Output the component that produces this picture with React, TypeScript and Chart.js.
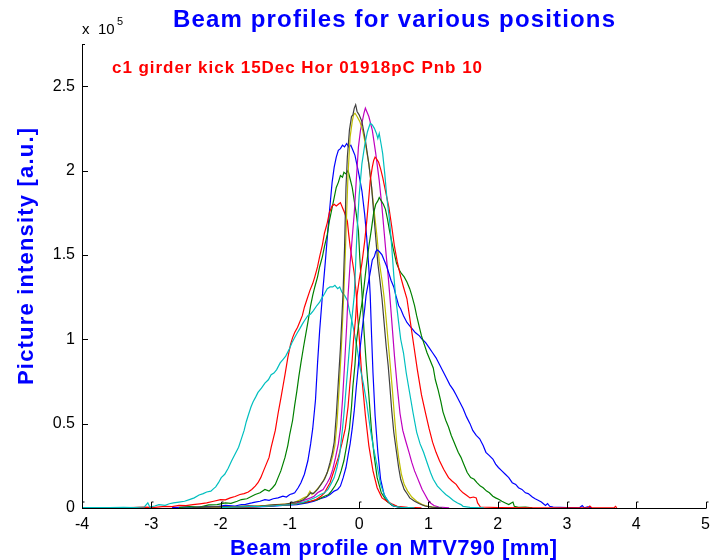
import { useEffect, useRef } from 'react';
import { Chart, registerables } from 'chart.js';

Chart.register(...registerables);

type Pt = [number, number];

// Axis ranges and ticks (intensity in units of 1e5)
const xRange: [number, number] = [-4, 5];
const yRange: [number, number] = [0, 2.75];
const xTickValues = [-4, -3, -2, -1, 0, 1, 2, 3, 4, 5];
const yTickValues = [0, 0.5, 1, 1.5, 2, 2.5];

const chartTitle = 'Beam profiles for various positions';
const runLabel = 'c1 girder kick 15Dec Hor 01918pC Pnb 10';
const xAxisTitle = 'Beam profile on MTV790 [mm]';
const yAxisTitle = 'Picture intensity [a.u.]';
const yExponentTimes = 'x';
const yExponentBase = '10';
const yExponent = '5';

// Profiles, one per kick position: [position mm, intensity x1e5]
const profileBlue1: Pt[] = [
  [-2.7, 0.002], [-2.5, 0.006], [-2.35, 0.004], [-2.2, 0.01], [-2.05, 0.008], [-1.93, 0.015], [-1.79, 0.012],
  [-1.7, 0.02], [-1.64, 0.022], [-1.55, 0.03], [-1.5, 0.035], [-1.43, 0.04], [-1.36, 0.05], [-1.3, 0.045],
  [-1.24, 0.055], [-1.17, 0.06], [-1.1, 0.07], [-1.05, 0.065], [-1.0, 0.08], [-0.96, 0.085], [-0.93, 0.09],
  [-0.88, 0.12], [-0.84, 0.15], [-0.79, 0.2], [-0.74, 0.28], [-0.7, 0.38], [-0.67, 0.47], [-0.63, 0.64],
  [-0.6, 0.86], [-0.57, 1.05], [-0.53, 1.26], [-0.49, 1.45], [-0.46, 1.6], [-0.43, 1.75], [-0.39, 1.93],
  [-0.36, 2.02], [-0.33, 2.08], [-0.3, 2.12], [-0.27, 2.13], [-0.24, 2.15], [-0.21, 2.14], [-0.18, 2.16],
  [-0.15, 2.14], [-0.12, 2.15], [-0.09, 2.12], [-0.06, 2.09], [-0.03, 2.03], [0.0, 1.97], [0.04, 1.88],
  [0.08, 1.74], [0.11, 1.6], [0.14, 1.42], [0.16, 1.26], [0.18, 1.02], [0.2, 0.8], [0.23, 0.55],
  [0.27, 0.33], [0.31, 0.17], [0.36, 0.08], [0.42, 0.035], [0.49, 0.012], [0.6, 0.004], [0.8, 0.001],
];

const profileGreen1: Pt[] = [
  [-2.6, 0.003], [-2.45, 0.008], [-2.3, 0.006], [-2.17, 0.018], [-2.05, 0.02], [-1.93, 0.03], [-1.85, 0.028],
  [-1.76, 0.04], [-1.7, 0.05], [-1.62, 0.055], [-1.55, 0.07], [-1.5, 0.08], [-1.43, 0.09], [-1.36, 0.11],
  [-1.3, 0.1], [-1.25, 0.12], [-1.21, 0.14], [-1.17, 0.18], [-1.13, 0.22], [-1.1, 0.26], [-1.07, 0.3],
  [-1.03, 0.37], [-1.0, 0.44], [-0.96, 0.52], [-0.93, 0.61], [-0.9, 0.69], [-0.87, 0.78], [-0.84, 0.86],
  [-0.8, 0.96], [-0.77, 1.03], [-0.74, 1.1], [-0.7, 1.2], [-0.67, 1.26], [-0.64, 1.31], [-0.6, 1.37],
  [-0.57, 1.43], [-0.53, 1.49], [-0.5, 1.55], [-0.46, 1.62], [-0.43, 1.7], [-0.4, 1.76], [-0.36, 1.84],
  [-0.33, 1.9], [-0.3, 1.93], [-0.27, 1.97], [-0.24, 1.96], [-0.22, 1.99], [-0.19, 1.98], [-0.16, 2.0],
  [-0.13, 1.95], [-0.1, 1.9], [-0.07, 1.82], [-0.04, 1.74], [-0.01, 1.64], [0.01, 1.48], [0.04, 1.28],
  [0.07, 1.05], [0.1, 0.87], [0.14, 0.67], [0.18, 0.45], [0.22, 0.3], [0.26, 0.18], [0.32, 0.09],
  [0.4, 0.04], [0.48, 0.015], [0.6, 0.004], [0.8, 0.001],
];

const profileRed1: Pt[] = [
  [-3.3, 0.002], [-3.1, 0.005], [-2.95, 0.004], [-2.8, 0.01], [-2.7, 0.008], [-2.6, 0.015], [-2.5, 0.014],
  [-2.4, 0.02], [-2.3, 0.025], [-2.2, 0.03], [-2.1, 0.04], [-2.0, 0.05], [-1.93, 0.048], [-1.86, 0.06],
  [-1.79, 0.068], [-1.72, 0.08], [-1.66, 0.085], [-1.6, 0.095], [-1.55, 0.11], [-1.5, 0.13], [-1.46, 0.15],
  [-1.42, 0.18], [-1.38, 0.22], [-1.34, 0.26], [-1.3, 0.3], [-1.27, 0.36], [-1.24, 0.41], [-1.21, 0.46],
  [-1.17, 0.56], [-1.13, 0.65], [-1.1, 0.72], [-1.07, 0.79], [-1.03, 0.89], [-0.99, 0.97], [-0.96, 1.01],
  [-0.93, 1.04], [-0.89, 1.07], [-0.86, 1.1], [-0.82, 1.14], [-0.79, 1.19], [-0.75, 1.24], [-0.71, 1.29],
  [-0.67, 1.33], [-0.64, 1.37], [-0.6, 1.43], [-0.57, 1.49], [-0.53, 1.56], [-0.5, 1.63], [-0.46, 1.69],
  [-0.43, 1.75], [-0.39, 1.79], [-0.36, 1.8], [-0.33, 1.79], [-0.3, 1.8], [-0.27, 1.81], [-0.24, 1.78],
  [-0.21, 1.75], [-0.17, 1.7], [-0.15, 1.62], [-0.13, 1.55], [-0.1, 1.47], [-0.07, 1.39], [-0.04, 1.26],
  [-0.02, 1.13], [0.0, 1.02], [0.04, 0.77], [0.09, 0.55], [0.14, 0.37], [0.2, 0.22], [0.26, 0.12],
  [0.33, 0.06], [0.4, 0.04], [0.47, 0.025], [0.55, 0.01], [0.7, 0.004], [0.9, 0.001],
];

const profileCyan1: Pt[] = [
  [-4.0, 0.002], [-3.8, 0.003], [-3.6, 0.002], [-3.4, 0.004], [-3.25, 0.003], [-3.1, 0.006], [-3.05, 0.03],
  [-3.02, 0.005], [-2.95, 0.012], [-2.89, 0.02], [-2.8, 0.016], [-2.74, 0.025], [-2.68, 0.03], [-2.6, 0.035],
  [-2.52, 0.04], [-2.45, 0.05], [-2.38, 0.06], [-2.31, 0.077], [-2.25, 0.085], [-2.2, 0.095], [-2.14, 0.1],
  [-2.1, 0.115], [-2.07, 0.125], [-2.03, 0.15], [-1.99, 0.18], [-1.94, 0.2], [-1.89, 0.236], [-1.84, 0.28],
  [-1.79, 0.32], [-1.74, 0.36], [-1.7, 0.41], [-1.66, 0.46], [-1.63, 0.51], [-1.6, 0.55], [-1.56, 0.6],
  [-1.53, 0.63], [-1.49, 0.66], [-1.46, 0.685], [-1.41, 0.71], [-1.36, 0.74], [-1.31, 0.76], [-1.27, 0.79],
  [-1.23, 0.8], [-1.19, 0.82], [-1.14, 0.86], [-1.1, 0.88], [-1.06, 0.9], [-1.01, 0.94], [-0.97, 0.98],
  [-0.93, 1.01], [-0.89, 1.04], [-0.86, 1.06], [-0.82, 1.09], [-0.79, 1.11], [-0.74, 1.14], [-0.7, 1.15],
  [-0.66, 1.17], [-0.61, 1.2], [-0.57, 1.22], [-0.53, 1.25], [-0.5, 1.27], [-0.46, 1.3], [-0.42, 1.31],
  [-0.38, 1.31], [-0.35, 1.32], [-0.31, 1.3], [-0.28, 1.31], [-0.25, 1.28], [-0.21, 1.26], [-0.17, 1.23],
  [-0.13, 1.15], [-0.1, 1.1], [-0.07, 1.04], [-0.03, 0.95], [0.01, 0.84], [0.06, 0.74], [0.11, 0.62],
  [0.16, 0.47], [0.21, 0.35], [0.26, 0.25], [0.31, 0.14], [0.37, 0.07], [0.44, 0.03], [0.5, 0.012],
  [0.6, 0.004], [0.8, 0.001],
];

const profileMagenta: Pt[] = [
  [-2.2, 0.003], [-2.0, 0.006], [-1.8, 0.005], [-1.6, 0.01], [-1.4, 0.012], [-1.2, 0.018], [-1.0, 0.025],
  [-0.9, 0.03], [-0.8, 0.045], [-0.7, 0.06], [-0.65, 0.07], [-0.6, 0.09], [-0.56, 0.1], [-0.52, 0.11],
  [-0.46, 0.15], [-0.42, 0.18], [-0.38, 0.23], [-0.34, 0.3], [-0.3, 0.38], [-0.27, 0.47], [-0.24, 0.64],
  [-0.21, 0.85], [-0.18, 1.08], [-0.16, 1.26], [-0.13, 1.45], [-0.1, 1.6], [-0.07, 1.75], [-0.04, 1.95],
  [-0.01, 2.14], [0.02, 2.24], [0.05, 2.3], [0.07, 2.34], [0.09, 2.37], [0.11, 2.35], [0.14, 2.32],
  [0.19, 2.24], [0.24, 2.1], [0.29, 1.94], [0.33, 1.78], [0.36, 1.64], [0.39, 1.5], [0.42, 1.37],
  [0.45, 1.22], [0.48, 1.06], [0.51, 0.9], [0.55, 0.72], [0.59, 0.56], [0.63, 0.46], [0.67, 0.4],
  [0.72, 0.33], [0.76, 0.27], [0.8, 0.22], [0.84, 0.18], [0.87, 0.15], [0.91, 0.11], [0.95, 0.08],
  [0.99, 0.05], [1.03, 0.03], [1.08, 0.015], [1.15, 0.006], [1.3, 0.001],
];

const profileYellow: Pt[] = [
  [-2.3, 0.003], [-2.1, 0.006], [-1.9, 0.005], [-1.7, 0.01], [-1.5, 0.012], [-1.35, 0.015], [-1.2, 0.02],
  [-1.05, 0.025], [-0.95, 0.03], [-0.87, 0.045], [-0.8, 0.06], [-0.75, 0.07], [-0.71, 0.1], [-0.68, 0.08],
  [-0.63, 0.1], [-0.57, 0.13], [-0.52, 0.16], [-0.47, 0.2], [-0.42, 0.25], [-0.38, 0.31], [-0.35, 0.37],
  [-0.32, 0.5], [-0.29, 0.7], [-0.26, 0.92], [-0.24, 1.1], [-0.22, 1.28], [-0.2, 1.5], [-0.18, 1.75],
  [-0.16, 1.98], [-0.13, 2.2], [-0.1, 2.29], [-0.08, 2.33], [-0.06, 2.34], [-0.03, 2.32], [0.01, 2.29],
  [0.05, 2.24], [0.09, 2.16], [0.14, 2.04], [0.18, 1.9], [0.22, 1.75], [0.26, 1.6], [0.29, 1.46],
  [0.33, 1.35], [0.36, 1.25], [0.39, 1.12], [0.42, 0.98], [0.45, 0.84], [0.48, 0.7], [0.51, 0.54],
  [0.54, 0.4], [0.57, 0.3], [0.61, 0.2], [0.65, 0.14], [0.7, 0.1], [0.76, 0.065], [0.83, 0.04],
  [0.91, 0.02], [1.0, 0.008], [1.15, 0.001],
];

const profileBlack: Pt[] = [
  [-2.4, 0.002], [-2.2, 0.005], [-2.0, 0.008], [-1.8, 0.007], [-1.6, 0.012], [-1.45, 0.01], [-1.3, 0.016],
  [-1.2, 0.02], [-1.1, 0.018], [-1.0, 0.028], [-0.93, 0.035], [-0.86, 0.04], [-0.8, 0.05], [-0.74, 0.07],
  [-0.7, 0.09], [-0.66, 0.085], [-0.6, 0.11], [-0.55, 0.14], [-0.5, 0.17], [-0.46, 0.21], [-0.42, 0.27],
  [-0.39, 0.32], [-0.36, 0.39], [-0.33, 0.55], [-0.3, 0.75], [-0.27, 0.95], [-0.25, 1.12], [-0.23, 1.3],
  [-0.21, 1.55], [-0.19, 1.9], [-0.17, 2.08], [-0.14, 2.24], [-0.11, 2.32], [-0.09, 2.33], [-0.07, 2.37],
  [-0.05, 2.39], [-0.03, 2.35], [0.0, 2.33], [0.04, 2.29], [0.09, 2.18], [0.14, 2.04], [0.18, 1.9],
  [0.21, 1.75], [0.24, 1.6], [0.27, 1.45], [0.3, 1.35], [0.33, 1.24], [0.36, 1.1], [0.39, 0.96],
  [0.42, 0.84], [0.44, 0.74], [0.47, 0.58], [0.5, 0.45], [0.54, 0.33], [0.57, 0.24], [0.6, 0.17],
  [0.65, 0.11], [0.7, 0.08], [0.73, 0.06], [0.8, 0.04], [0.87, 0.025], [0.95, 0.012], [1.05, 0.005],
  [1.2, 0.001],
];

const profileBlue2: Pt[] = [
  [-1.8, 0.003], [-1.5, 0.006], [-1.3, 0.01], [-1.1, 0.015], [-0.9, 0.02], [-0.75, 0.03], [-0.65, 0.04],
  [-0.56, 0.055], [-0.48, 0.065], [-0.42, 0.08], [-0.36, 0.1], [-0.31, 0.11], [-0.27, 0.13], [-0.23, 0.18],
  [-0.19, 0.24], [-0.16, 0.31], [-0.13, 0.38], [-0.1, 0.47], [-0.07, 0.58], [-0.04, 0.72], [-0.01, 0.85],
  [0.02, 0.97], [0.05, 1.08], [0.08, 1.18], [0.1, 1.26], [0.14, 1.35], [0.17, 1.42], [0.19, 1.47],
  [0.22, 1.49], [0.24, 1.52], [0.26, 1.53], [0.29, 1.52], [0.33, 1.5], [0.36, 1.47], [0.4, 1.43],
  [0.43, 1.39], [0.46, 1.35], [0.5, 1.31], [0.53, 1.26], [0.57, 1.2], [0.6, 1.18], [0.64, 1.14],
  [0.69, 1.1], [0.73, 1.08], [0.77, 1.06], [0.81, 1.04], [0.87, 1.02], [0.91, 1.0], [0.96, 0.98],
  [1.01, 0.95], [1.06, 0.92], [1.11, 0.89], [1.16, 0.85], [1.21, 0.81], [1.26, 0.77], [1.31, 0.73],
  [1.36, 0.7], [1.4, 0.67], [1.45, 0.63], [1.5, 0.59], [1.55, 0.54], [1.6, 0.5], [1.64, 0.46],
  [1.69, 0.43], [1.74, 0.41], [1.79, 0.37], [1.83, 0.33], [1.88, 0.31], [1.93, 0.29], [1.97, 0.26],
  [2.01, 0.24], [2.06, 0.22], [2.11, 0.2], [2.16, 0.18], [2.21, 0.15], [2.26, 0.14], [2.3, 0.12],
  [2.35, 0.11], [2.4, 0.09], [2.44, 0.085], [2.5, 0.065], [2.54, 0.055], [2.59, 0.045], [2.63, 0.035],
  [2.66, 0.025], [2.69, 0.015], [2.72, 0.026], [2.75, 0.01], [2.8, 0.006], [3.0, 0.003], [3.18, 0.001],
  [3.22, 0.014], [3.25, 0.001], [3.3, 0.007], [3.35, 0.001],
];

const profileGreen2: Pt[] = [
  [-2.0, 0.003], [-1.7, 0.006], [-1.4, 0.01], [-1.2, 0.015], [-1.0, 0.02], [-0.8, 0.03], [-0.7, 0.04],
  [-0.6, 0.05], [-0.5, 0.07], [-0.44, 0.08], [-0.4, 0.1], [-0.35, 0.13], [-0.3, 0.17], [-0.26, 0.22],
  [-0.22, 0.28], [-0.18, 0.37], [-0.14, 0.47], [-0.11, 0.6], [-0.09, 0.72], [-0.06, 0.85], [-0.04, 0.98],
  [-0.01, 1.08], [0.02, 1.16], [0.05, 1.24], [0.07, 1.31], [0.1, 1.42], [0.14, 1.55], [0.18, 1.66],
  [0.21, 1.75], [0.24, 1.8], [0.27, 1.82], [0.29, 1.84], [0.32, 1.82], [0.35, 1.8], [0.38, 1.77],
  [0.41, 1.71], [0.44, 1.64], [0.49, 1.54], [0.54, 1.45], [0.58, 1.41], [0.61, 1.39], [0.65, 1.37],
  [0.69, 1.34], [0.73, 1.3], [0.76, 1.26], [0.8, 1.2], [0.83, 1.14], [0.87, 1.07], [0.9, 1.02],
  [0.94, 0.97], [0.98, 0.92], [1.02, 0.88], [1.07, 0.83], [1.1, 0.76], [1.14, 0.7], [1.18, 0.63],
  [1.21, 0.57], [1.25, 0.52], [1.29, 0.48], [1.33, 0.43], [1.36, 0.4], [1.4, 0.36], [1.43, 0.33],
  [1.47, 0.3], [1.5, 0.27], [1.53, 0.24], [1.56, 0.21], [1.61, 0.18], [1.66, 0.17], [1.7, 0.15],
  [1.75, 0.13], [1.79, 0.12], [1.84, 0.1], [1.88, 0.09], [1.93, 0.07], [1.97, 0.06], [2.02, 0.05],
  [2.06, 0.04], [2.11, 0.03], [2.16, 0.02], [2.19, 0.028], [2.22, 0.035], [2.24, 0.01], [2.3, 0.004],
  [2.4, 0.006], [2.5, 0.001],
];

const profileRed2: Pt[] = [
  [-2.0, 0.003], [-1.8, 0.006], [-1.6, 0.005], [-1.4, 0.01], [-1.2, 0.015], [-1.0, 0.02], [-0.85, 0.03],
  [-0.7, 0.04], [-0.62, 0.05], [-0.55, 0.07], [-0.5, 0.09], [-0.46, 0.12], [-0.42, 0.15], [-0.38, 0.2],
  [-0.34, 0.25], [-0.3, 0.3], [-0.25, 0.38], [-0.2, 0.47], [-0.16, 0.6], [-0.13, 0.75], [-0.1, 0.88],
  [-0.08, 1.0], [-0.05, 1.13], [-0.03, 1.26], [0.0, 1.35], [0.04, 1.45], [0.08, 1.58], [0.11, 1.7],
  [0.14, 1.84], [0.16, 1.94], [0.19, 2.02], [0.21, 2.06], [0.23, 2.08], [0.25, 2.07], [0.28, 2.05],
  [0.31, 2.01], [0.34, 1.96], [0.38, 1.88], [0.43, 1.78], [0.47, 1.67], [0.51, 1.55], [0.55, 1.46],
  [0.6, 1.37], [0.64, 1.31], [0.69, 1.24], [0.74, 1.1], [0.79, 0.96], [0.84, 0.82], [0.9, 0.67],
  [0.96, 0.56], [1.01, 0.47], [1.06, 0.39], [1.11, 0.33], [1.16, 0.28], [1.22, 0.23], [1.29, 0.18],
  [1.34, 0.16], [1.4, 0.14], [1.45, 0.11], [1.5, 0.09], [1.55, 0.075], [1.6, 0.06], [1.65, 0.065],
  [1.69, 0.06], [1.71, 0.03], [1.75, 0.006], [2.0, 0.003], [2.5, 0.001], [3.3, 0.001], [3.33, 0.012],
  [3.36, 0.001], [3.68, 0.001], [3.7, 0.01], [3.72, 0.001],
];

const profileCyan2: Pt[] = [
  [-2.0, 0.003], [-1.8, 0.005], [-1.6, 0.008], [-1.4, 0.01], [-1.2, 0.014], [-1.0, 0.02], [-0.9, 0.025],
  [-0.8, 0.035], [-0.7, 0.05], [-0.62, 0.065], [-0.56, 0.08], [-0.5, 0.09], [-0.45, 0.11], [-0.41, 0.14],
  [-0.36, 0.18], [-0.32, 0.24], [-0.28, 0.32], [-0.24, 0.47], [-0.21, 0.6], [-0.18, 0.75], [-0.14, 0.95],
  [-0.11, 1.1], [-0.07, 1.26], [-0.05, 1.45], [-0.03, 1.64], [0.0, 1.85], [0.04, 2.04], [0.08, 2.15],
  [0.12, 2.23], [0.16, 2.28], [0.19, 2.27], [0.22, 2.25], [0.25, 2.22], [0.27, 2.19], [0.29, 2.22],
  [0.32, 2.15], [0.34, 2.1], [0.37, 1.98], [0.4, 1.84], [0.44, 1.7], [0.47, 1.55], [0.5, 1.38],
  [0.53, 1.24], [0.57, 1.1], [0.6, 1.0], [0.64, 0.92], [0.68, 0.8], [0.73, 0.68], [0.78, 0.56],
  [0.83, 0.45], [0.88, 0.38], [0.93, 0.33], [0.98, 0.27], [1.03, 0.21], [1.07, 0.17], [1.13, 0.13],
  [1.2, 0.1], [1.25, 0.08], [1.3, 0.065], [1.36, 0.045], [1.42, 0.03], [1.47, 0.02], [1.5, 0.01],
  [1.6, 0.004], [1.8, 0.001],
];

// Plot order and colours follow the default line colour cycle
const profiles: Pt[][] = [
  profileBlue1, profileGreen1, profileRed1, profileCyan1, profileMagenta, profileYellow,
  profileBlack, profileBlue2, profileGreen2, profileRed2, profileCyan2,
];
const lineColors = [
  '#0000ff', '#008000', '#ff0000', '#00bfbf', '#bf00bf', '#bfbf00',
  '#404040', '#0000ff', '#008000', '#ff0000', '#00bfbf',
];

const FONT = '"Liberation Sans", Arial, Helvetica, sans-serif';

// Draws text with extra letter spacing so it spans the requested width
function spacedText(ctx: CanvasRenderingContext2D, text: string, x: number, y: number, width: number) {
  const chars = [...text];
  const widths = chars.map((c) => ctx.measureText(c).width);
  const natural = widths.reduce((a, b) => a + b, 0);
  const gap = chars.length > 1 ? (width - natural) / (chars.length - 1) : 0;
  let cx = x;
  chars.forEach((c, i) => {
    ctx.fillText(c, cx, y);
    cx += widths[i] + gap;
  });
}

const axesPlugin = {
  id: 'matlabAxes',
  afterDatasetsDraw(chart: any) {
    const { ctx, chartArea, scales } = chart;
    const xs = scales.x;
    const ys = scales.y;
    const left = chartArea.left;
    const right = chartArea.right;
    const top = chartArea.top;
    const bottom = chartArea.bottom;
    ctx.save();
    ctx.strokeStyle = '#000';
    ctx.lineWidth = 1;
    ctx.beginPath();
    ctx.moveTo(left + 0.5, top);
    ctx.lineTo(left + 0.5, bottom + 1);
    ctx.moveTo(left, bottom + 0.5);
    ctx.lineTo(right + 1, bottom + 0.5);
    ctx.moveTo(left, top + 0.5);
    ctx.lineTo(left + 3, top + 0.5);
    yTickValues.forEach((v) => {
      const py = Math.round(ys.getPixelForValue(v)) + 0.5;
      ctx.moveTo(left, py);
      ctx.lineTo(left + 6, py);
    });
    xTickValues.forEach((v) => {
      const px = Math.round(xs.getPixelForValue(v)) + 0.5;
      ctx.moveTo(px, bottom);
      ctx.lineTo(px, bottom - 6);
      ctx.lineTo(px + 2, bottom - 6);
    });
    ctx.stroke();
    ctx.restore();
  },
  afterDraw(chart: any) {
    const { ctx } = chart;
    ctx.save();
    ctx.textAlign = 'left';
    ctx.textBaseline = 'alphabetic';

    ctx.fillStyle = '#0000ff';
    ctx.font = `bold 24px ${FONT}`;
    spacedText(ctx, chartTitle, 173, 27, 442);

    ctx.fillStyle = '#ff0000';
    ctx.font = `bold 17px ${FONT}`;
    spacedText(ctx, runLabel, 112, 73, 370);

    // axis multiplier above the y axis
    ctx.fillStyle = '#000000';
    ctx.font = `15px ${FONT}`;
    ctx.fillText(yExponentTimes, 82, 34);
    ctx.fillText(yExponentBase, 98, 34);
    ctx.font = `11px ${FONT}`;
    ctx.fillText(yExponent, 117, 25);

    ctx.fillStyle = '#0000ff';
    ctx.font = `bold 22px ${FONT}`;
    spacedText(ctx, xAxisTitle, 230, 555, 327);

    ctx.translate(33, 385);
    ctx.rotate(-Math.PI / 2);
    spacedText(ctx, yAxisTitle, 0, 0, 257);
    ctx.restore();
  },
};

export default function App() {
  const canvasRef = useRef<HTMLCanvasElement | null>(null);

  useEffect(() => {
    const canvas = canvasRef.current;
    if (!canvas) return;
    const chart = new Chart(canvas, {
      type: 'scatter',
      data: {
        datasets: profiles.map((pts, i) => ({
          data: pts.map(([x, y]) => ({ x, y })),
          showLine: true,
          borderColor: lineColors[i],
          backgroundColor: lineColors[i],
          borderWidth: 1.2,
          pointRadius: 0,
          pointHoverRadius: 0,
          tension: 0,
          order: profiles.length - i,
        })),
      },
      options: {
        animation: false,
        responsive: false,
        devicePixelRatio: 1,
        events: [],
        layout: { padding: { left: 0, right: 5, top: 44, bottom: 0 } },
        plugins: {
          legend: { display: false },
          tooltip: { enabled: false },
          title: { display: false },
        },
        scales: {
          x: {
            type: 'linear',
            min: xRange[0],
            max: xRange[1],
            grid: { display: false, drawTicks: false },
            border: { display: false },
            afterBuildTicks: (scale: any) => {
              scale.ticks = xTickValues.map((value) => ({ value }));
            },
            afterFit: (scale: any) => {
              scale.height = 52;
            },
            ticks: {
              padding: 7,
              color: '#000',
              font: { family: FONT, size: 16 },
              maxRotation: 0,
              autoSkip: false,
              callback: (v: any) => String(v),
            },
          },
          y: {
            type: 'linear',
            min: yRange[0],
            max: yRange[1],
            grid: { display: false, drawTicks: false },
            border: { display: false },
            afterBuildTicks: (scale: any) => {
              scale.ticks = yTickValues.map((value) => ({ value }));
            },
            afterFit: (scale: any) => {
              scale.width = 82;
            },
            ticks: {
              padding: 7,
              color: '#000',
              font: { family: FONT, size: 16 },
              autoSkip: false,
              callback: (v: any) => String(v),
            },
          },
        },
      },
      plugins: [axesPlugin],
    });
    return () => chart.destroy();
  }, []);

  return (
    <div style={{ position: 'absolute', left: 0, top: 0, width: 717, height: 560, background: '#ffffff' }}>
      <canvas ref={canvasRef} width={717} height={560} style={{ display: 'block', width: 717, height: 560 }} />
    </div>
  );
}
